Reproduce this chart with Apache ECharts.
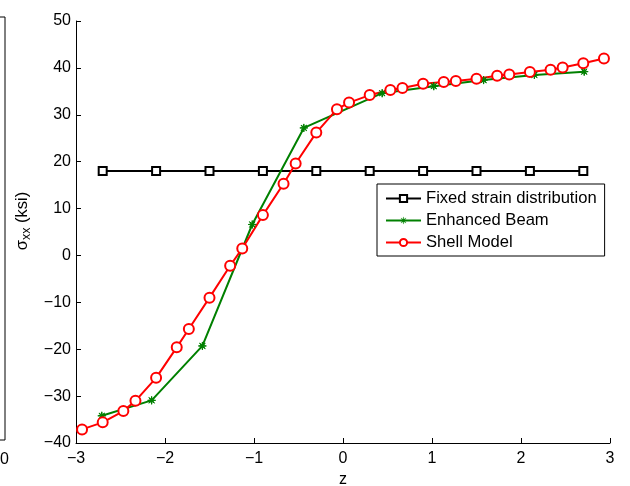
<!DOCTYPE html>
<html>
<head>
<meta charset="utf-8">
<script src="https://cdn.jsdelivr.net/npm/echarts@6/dist/echarts.min.js"></script>
<style>
  html, body { margin: 0; padding: 0; background: #fff; }
  #chart { width: 630px; height: 486px; }
</style>
</head>
<body>
<div id="chart"></div>
<script>
// Through-thickness coordinate z and axial stress sigma_xx (ksi)
const zFixed = [-2.7, -2.1, -1.5, -0.9, -0.3, 0.3, 0.9, 1.5, 2.1, 2.7];
const sigmaFixed = [18, 18, 18, 18, 18, 18, 18, 18, 18, 18];

const zBeam = [-2.71, -2.15, -1.58, -1.02, -0.44, 0.44, 1.02, 1.58, 2.15, 2.71];
const sigmaBeam = [-34.2, -30.9, -19.3, 6.6, 27.2, 34.6, 36.1, 37.4, 38.5, 39.2];

const zShell = [-2.932, -2.7, -2.468, -2.332, -2.1, -1.868, -1.732, -1.5, -1.268, -1.132,
                -0.9, -0.668, -0.532, -0.3, -0.068, 0.068, 0.3, 0.532, 0.668, 0.9,
                1.132, 1.268, 1.5, 1.732, 1.868, 2.1, 2.332, 2.468, 2.7, 2.932];
const sigmaShell = [-37.1, -35.6, -33.2, -31.0, -26.1, -19.6, -15.7, -9.0, -2.2, 1.5,
                    8.6, 15.3, 19.6, 26.2, 31.2, 32.6, 34.2, 35.3, 35.7, 36.6,
                    37.0, 37.2, 37.7, 38.3, 38.6, 39.1, 39.6, 40.1, 41.0, 42.0];

const seriesNames = ['Fixed strain distribution', 'Enhanced Beam', 'Shell Model'];
const xTicks = { min: -3, max: 3, interval: 1 };
const yTicks = { min: -40, max: 50, interval: 10 };

const FONT = '"Liberation Sans", Arial, Helvetica, sans-serif';
const pairs = (xs, ys) => xs.map((x, i) => [x, ys[i]]);
const minusFmt = v => (v < 0 ? '\u2212' + Math.abs(v) : String(v));

// eight-armed asterisk marker
const ASTERISK = 'path://M20,10L12.77,11.15L17.07,17.07L11.15,12.77L10,20L8.85,12.77L2.93,17.07L7.23,11.15L0,10L7.23,8.85L2.93,2.93L8.85,7.23L10,0L11.15,7.23L17.07,2.93L12.77,8.85Z';

const chart = echarts.init(document.getElementById('chart'), null, { renderer: 'canvas' });

const option = {
  animation: false,
  backgroundColor: '#fff',
  textStyle: { fontFamily: FONT },
  grid: [
    { left: 76, right: 20, top: 21, bottom: 43, containLabel: false, outerBoundsMode: 'none' },
    // edge of the neighbouring panel on the left
    { left: -300, right: 625, top: 17, bottom: 46, containLabel: false, outerBoundsMode: 'none',
      show: true, borderColor: '#000', borderWidth: 1, backgroundColor: 'transparent' }
  ],
  xAxis: [
    {
      type: 'value', gridIndex: 0,
      min: xTicks.min, max: xTicks.max, interval: xTicks.interval,
      name: 'z', nameLocation: 'middle', nameGap: 18,
      nameTextStyle: { fontSize: 16, color: '#000', fontFamily: FONT },
      axisLine: { show: true, onZero: false, lineStyle: { color: '#000', width: 1 } },
      axisTick: { show: true, inside: true, length: 5, lineStyle: { color: '#000' } },
      axisLabel: { fontSize: 16, color: '#000', margin: 8, formatter: minusFmt, fontFamily: FONT },
      splitLine: { show: false }
    },
    {
      type: 'value', gridIndex: 1, min: 0, max: 10,
      axisLine: { show: false }, axisTick: { show: false },
      axisLabel: { show: false }, splitLine: { show: false }
    }
  ],
  yAxis: [
    {
      type: 'value', gridIndex: 0,
      min: yTicks.min, max: yTicks.max, interval: yTicks.interval,
      name: '{t|\u03c3}{s|xx}{t| (ksi)}', nameLocation: 'middle', nameGap: 37,
      nameRotate: 90,
      nameTextStyle: {
        padding: [0, 0, 0, 22],
        rich: {
          t: { fontSize: 16.5, color: '#000', fontFamily: FONT },
          s: { fontSize: 12.5, color: '#000', fontFamily: FONT, verticalAlign: 'top', padding: [8, 0, 0, 0] }
        }
      },
      axisLine: { show: true, onZero: false, lineStyle: { color: '#000', width: 1 } },
      axisTick: { show: true, inside: true, length: 5, lineStyle: { color: '#000' } },
      axisLabel: { fontSize: 16, color: '#000', margin: 5, formatter: minusFmt, fontFamily: FONT },
      splitLine: { show: false }
    },
    {
      type: 'value', gridIndex: 1, min: 0, max: 10, interval: 1, position: 'right',
      axisLine: { show: false },
      axisTick: { show: true, inside: true, length: 5, lineStyle: { color: '#000' } },
      axisLabel: { show: false }, splitLine: { show: false }
    }
  ],
  legend: {
    orient: 'vertical',
    left: 377, top: 184,
    itemWidth: 35, itemHeight: 9, itemGap: 5,
    padding: [6, 8, 5, 8],
    borderColor: '#000', borderWidth: 1, borderRadius: 0,
    backgroundColor: '#fff',
    textStyle: { fontSize: 16.6, color: '#000', fontFamily: FONT },
    data: [
      { name: seriesNames[0] },
      { name: seriesNames[1], itemStyle: { borderWidth: 0.35 }, lineStyle: { width: 2, color: '#008000' } },
      { name: seriesNames[2] }
    ]
  },
  graphic: [
    { type: 'text', left: -9, top: 452, silent: true,
      style: { text: '40', fontSize: 16, fill: '#000', fontFamily: FONT } }
  ],
  series: [
    {
      name: seriesNames[0], type: 'line', xAxisIndex: 0, yAxisIndex: 0,
      data: pairs(zFixed, sigmaFixed),
      symbol: 'rect', symbolSize: 8, showAllSymbol: true,
      color: '#000',
      lineStyle: { color: '#000', width: 2 },
      itemStyle: { color: '#fff', borderColor: '#000', borderWidth: 2 },
      emphasis: { disabled: true }, silent: true
    },
    {
      name: seriesNames[1], type: 'line', xAxisIndex: 0, yAxisIndex: 0,
      data: pairs(zBeam, sigmaBeam),
      symbol: ASTERISK, symbolSize: 8, showAllSymbol: true,
      color: '#008000',
      lineStyle: { color: '#008000', width: 2 },
      itemStyle: { color: '#008000', borderColor: '#008000', borderWidth: 1 },
      emphasis: { disabled: true }, silent: true
    },
    {
      name: seriesNames[2], type: 'line', xAxisIndex: 0, yAxisIndex: 0,
      data: pairs(zShell, sigmaShell),
      symbol: 'circle', symbolSize: 10, showAllSymbol: true,
      color: '#ff0000',
      lineStyle: { color: '#ff0000', width: 2 },
      itemStyle: { color: '#fff', borderColor: '#ff0000', borderWidth: 2 },
      emphasis: { disabled: true }, silent: true
    }
  ]
};

chart.setOption(option);
</script>
</body>
</html>
